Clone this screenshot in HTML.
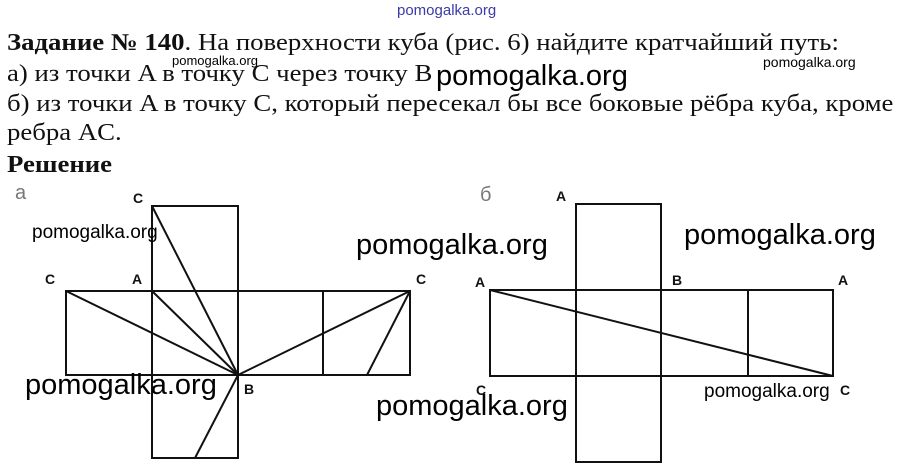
<!DOCTYPE html>
<html><head><meta charset="utf-8"><style>
body{margin:0;width:911px;height:476px;background:#fff;overflow:hidden;position:relative;font-family:"Liberation Serif",serif;}
.t{position:absolute;left:7px;font-size:24px;line-height:28px;color:#111;white-space:nowrap;transform:scaleX(1.115);transform-origin:0 0;}
.w{position:absolute;font-family:"Liberation Sans","DejaVu Sans",sans-serif;color:#000;white-space:nowrap;}
svg{position:absolute;left:0;top:0}
</style></head><body>
<div class="w" style="left:397px;top:2px;font-size:15px;color:#3a3aa8">pomogalka.org</div>
<div class="t" style="top:29px"><b>Задание № 140</b>. На поверхности куба (рис. 6) найдите кратчайший путь:</div>
<div class="t" style="top:60px">а) из точки A в точку C через точку B</div>
<div class="t" style="top:90px">б) из точки A в точку C, который пересекал бы все боковые рёбра куба, кроме</div>
<div class="t" style="top:119px">ребра AC.</div>
<div class="t" style="top:151px"><b>Решение</b></div>
<div class="w" style="left:172px;top:53px;font-size:13px">pomogalka.org</div>
<div class="w" style="left:436px;top:60px;font-size:29px">pomogalka.org</div>
<div class="w" style="left:763px;top:54px;font-size:14px">pomogalka.org</div>
<svg width="911" height="476" stroke="#111" stroke-width="2" fill="none">
<rect x="152" y="206" width="86" height="252"/>
<rect x="66" y="291" width="344" height="84"/>
<line x1="323" y1="291" x2="323" y2="375"/>
<line x1="238" y1="375" x2="152" y2="206"/>
<line x1="238" y1="375" x2="152" y2="291"/>
<line x1="238" y1="375" x2="66" y2="291"/>
<line x1="238" y1="375" x2="410" y2="291"/>
<line x1="238" y1="375" x2="195" y2="458"/>
<line x1="410" y1="291" x2="367" y2="375"/>
<rect x="576" y="204" width="85" height="258"/>
<rect x="490" y="290" width="343" height="86"/>
<line x1="748" y1="290" x2="748" y2="376"/>
<line x1="490" y1="290" x2="833" y2="376"/>
<g font-family="Liberation Sans,sans-serif" font-weight="bold" font-size="14" fill="#111" stroke="none">
<text x="133" y="203">C</text><text x="45" y="284">C</text><text x="132" y="284">A</text>
<text x="416" y="284">C</text><text x="244" y="394">B</text>
<text x="556" y="201">A</text><text x="475" y="287">A</text><text x="672" y="285">B</text>
<text x="838" y="285">A</text><text x="476" y="395">C</text><text x="840" y="395">C</text>
</g>
<g font-family="Liberation Sans,sans-serif" font-size="20" fill="#777" stroke="none">
<text x="15" y="199">a</text><text x="480" y="201">б</text>
</g>
</svg>
<div class="w" style="left:32px;top:222px;font-size:19px">pomogalka.org</div>
<div class="w" style="left:356px;top:229px;font-size:29px">pomogalka.org</div>
<div class="w" style="left:684px;top:219px;font-size:29px">pomogalka.org</div>
<div class="w" style="left:25px;top:369px;font-size:29px">pomogalka.org</div>
<div class="w" style="left:376px;top:390px;font-size:29px">pomogalka.org</div>
<div class="w" style="left:704px;top:381px;font-size:19px">pomogalka.org</div>
</body></html>
